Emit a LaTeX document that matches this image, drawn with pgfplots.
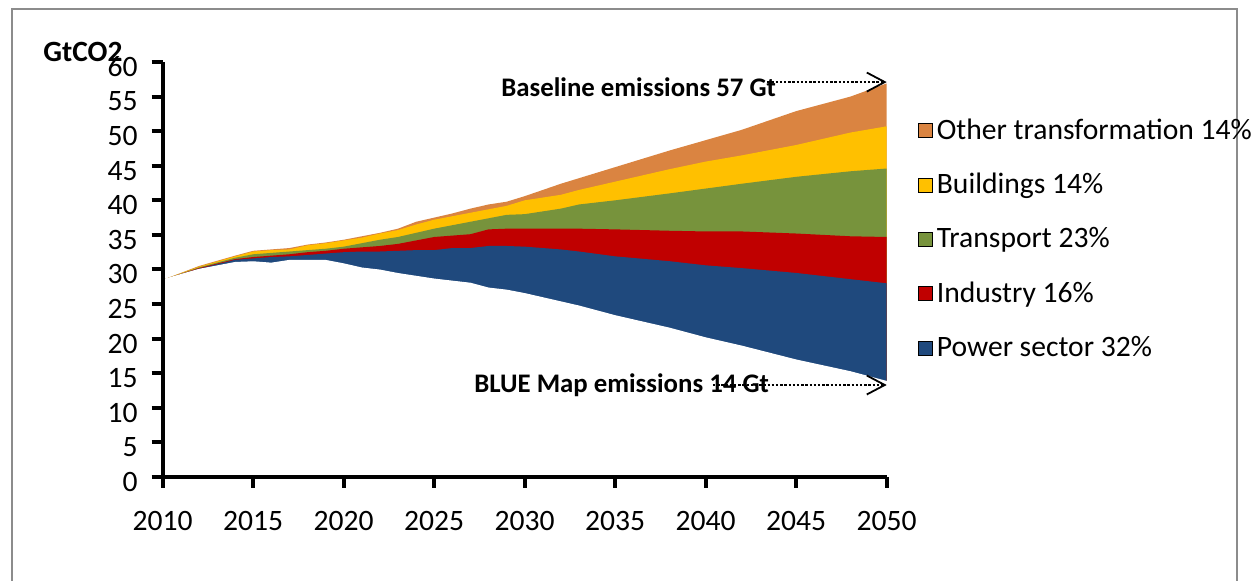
\documentclass[border=0pt]{standalone}
\usepackage{fontspec}
\setmainfont{Carlito}
\usepackage{pgfplots}
\usepackage{pgfplotstable}
\pgfplotsset{compat=1.18}
\usetikzlibrary{arrows.meta}

\definecolor{powerC}{HTML}{1F497D}
\definecolor{industryC}{HTML}{C00000}
\definecolor{transportC}{HTML}{77933C}
\definecolor{buildingsC}{HTML}{FFC000}
\definecolor{otherC}{HTML}{DA8441}

% cumulative upper edges of each band, GtCO2 (base = BLUE Map emissions)
\pgfplotstableread{
year base power industry transport buildings other
2010 28.5 28.5 28.5 28.5 28.5 28.5
2012 30.0 30.1 30.2 30.3 30.4 30.5
2014 31.0 31.4 31.5 31.7 31.9 32.0
2015 31.1 31.6 31.8 32.2 32.6 32.7
2016 30.9 31.8 32.0 32.4 32.8 32.9
2017 31.3 31.9 32.2 32.6 32.9 33.1
2018 31.3 32.1 32.5 32.8 33.5 33.6
2019 31.3 32.3 32.7 33.0 33.8 33.9
2020 30.8 32.5 33.0 33.3 34.2 34.3
2021 30.2 32.6 33.2 33.8 34.6 34.8
2022 29.9 32.6 33.4 34.3 35.2 35.3
2023 29.4 32.7 33.7 34.7 35.7 35.9
2024 29.0 32.8 34.2 35.3 36.5 36.9
2025 28.6 32.8 34.7 35.9 37.2 37.5
2026 28.3 33.1 34.9 36.4 37.7 38.1
2027 28.0 33.1 35.1 36.9 38.2 38.8
2028 27.3 33.4 35.8 37.4 38.7 39.4
2029 27.0 33.4 35.9 37.9 39.2 39.8
2030 26.5 33.3 35.9 38.0 40.0 40.6
2032 25.3 32.9 35.9 38.8 40.8 42.4
2033 24.7 32.6 35.9 39.4 41.5 43.2
2035 23.3 31.9 35.8 40.0 42.7 44.8
2038 21.5 31.2 35.6 41.0 44.5 47.2
2040 20.1 30.6 35.5 41.7 45.6 48.7
2042 18.9 30.2 35.5 42.4 46.5 50.2
2045 16.9 29.5 35.2 43.4 48.0 52.9
2048 15.2 28.6 34.8 44.2 49.8 55.0
2050 13.8 28.0 34.7 44.6 50.7 56.9
}\emissions

\begin{document}
\begin{tikzpicture}
\useasboundingbox (0pt,0pt) rectangle (629pt,290.5pt);
\draw[black!45, line width=1.2pt] (6pt,-5pt) -- (6pt,286pt) -- (618.5pt,286pt) -- (618.5pt,-5pt);
\node[anchor=base west, inner sep=0, font=\bfseries\fontsize{14.7}{17}\selectfont] at (21.5pt,259.5pt) {GtCO2};
\begin{axis}[
    at={(81.35pt,52pt)}, anchor=south west,
    scale only axis, width=362pt, height=207.5pt,
    xmin=2010, xmax=2050, ymin=0, ymax=60,
    xtick={2010,2015,...,2050}, ytick={0,5,...,60},
    axis lines*=left, axis on top,
    axis line style={black, line width=2pt},
    x axis line style={line width=2pt},
    y axis line style={line width=2pt},
    xtick style={line width=2pt, black},
    ytick style={line width=2pt, black},
    major tick length=5.5pt, tick align=outside,
    /pgf/number format/1000 sep={},
    /pgf/number format/assume math mode=true,
    ticklabel style={font=\fontsize{14.8}{17}\selectfont},
    yticklabel style={yshift=-2.5pt, xshift=-3.5pt},
    xticklabel style={yshift=-8pt},
    clip=false,
    legend cell align=left,
    legend image code/.code={\fill[#1] (0pt,-3.5pt) rectangle (7pt,3.5pt);},
    legend style={draw=none, fill=none, at={(axis description cs:1.0345,0.573)},
      anchor=west, font=\fontsize{14.8}{17}\selectfont, row sep=11.5pt},
  ]
  \addlegendimage{fill=otherC}     \addlegendentry{Other transformation 14\%}
  \addlegendimage{fill=buildingsC} \addlegendentry{Buildings 14\%}
  \addlegendimage{fill=transportC} \addlegendentry{Transport 23\%}
  \addlegendimage{fill=industryC}  \addlegendentry{Industry 16\%}
  \addlegendimage{fill=powerC}     \addlegendentry{Power sector 32\%}

  % each upper edge filled down to zero, top band first, then covered by the next
  \addplot[fill=otherC, draw=none, forget plot] table[x=year, y=other] {\emissions} \closedcycle;
  \addplot[fill=buildingsC, draw=none, forget plot] table[x=year, y=buildings] {\emissions} \closedcycle;
  \addplot[fill=transportC, draw=none, forget plot] table[x=year, y=transport] {\emissions} \closedcycle;
  \addplot[fill=industryC, draw=none, forget plot] table[x=year, y=industry] {\emissions} \closedcycle;
  \addplot[fill=powerC, draw=none, forget plot] table[x=year, y=power] {\emissions} \closedcycle;
  \addplot[fill=white, draw=white, line width=0.6pt, forget plot] table[x=year, y=base] {\emissions} \closedcycle;

  \node[anchor=base west, inner sep=0, font=\bfseries\fontsize{13.4}{15}\selectfont]
    at (axis cs:2028.69,54.96) {Baseline emissions 57 Gt};
  \node[anchor=base west, inner sep=0, font=\bfseries\fontsize{13.4}{15}\selectfont]
    at (axis cs:2027.2,12.18) {BLUE Map emissions 14 Gt};
  \draw[line width=1.2pt, dash pattern=on 1.2pt off 0.9pt,
        -{Straight Barb[length=9pt, width=9.5pt, line width=0.9pt]}]
    (axis cs:2043.4,57.1) -- (axis cs:2050,57.1);
  \draw[line width=1.2pt, dash pattern=on 1.2pt off 0.9pt,
        -{Straight Barb[length=9pt, width=9.5pt, line width=0.9pt]}]
    (axis cs:2040.4,13.3) -- (axis cs:2050,13.3);
\end{axis}
\end{tikzpicture}
\end{document}
